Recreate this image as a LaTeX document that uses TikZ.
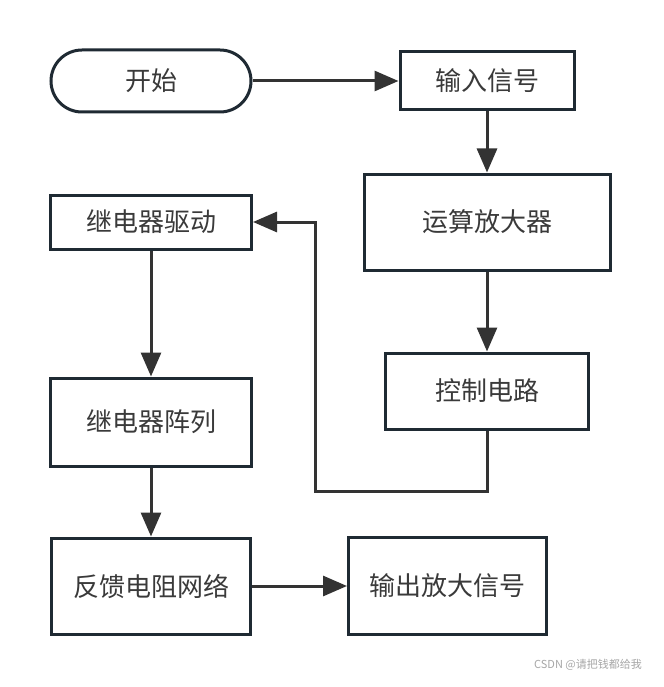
\documentclass[tikz,border=0pt]{standalone}
\usepackage{fontspec}
\newfontfamily\cjk{Noto Sans CJK SC}
\usepackage{tikz}
\usetikzlibrary{arrows.meta, positioning}
\usepackage{xcolor}
\definecolor{boxline}{HTML}{1F2A33}
\definecolor{linkline}{HTML}{333333}
\definecolor{labeltext}{HTML}{3A3A3A}
\tikzstyle{stepbox} = [rectangle, draw=boxline, line width=3pt, fill=white, text centered, text=labeltext, inner sep=0pt, font=\cjk\fontsize{26}{30}\selectfont]
\tikzstyle{startbox} = [stepbox, rounded corners=31pt]
\tikzstyle{flowarrow} = [line width=3pt, draw=linkline, -{Triangle[length=24pt, width=20pt]}]

\begin{document}
\begin{tikzpicture}[x=1pt, y=-1pt, node distance=60pt]
    \useasboundingbox (0,0) rectangle (663,687);
    \node (start) [startbox, minimum width=200pt, minimum height=62pt] at (151,81) {开始};
    \node (input) [stepbox, minimum width=174pt, minimum height=58pt, right=146pt of start] {输入信号};
    \node (opamp) [stepbox, minimum width=246pt, minimum height=96pt, below=61pt of input] {运算放大器};
    \node (ctrl) [stepbox, minimum width=203pt, minimum height=76pt, below=80pt of opamp] {控制电路};
    \node (drive) [stepbox, minimum width=201pt, minimum height=54pt] at (151,222) {继电器驱动};
    \node (relays) [stepbox, minimum width=201pt, minimum height=88pt, below=126pt of drive] {继电器阵列};
    \node (fbnet) [stepbox, minimum width=199pt, minimum height=96pt, below=69pt of relays] {反馈电阻网络};
    \node (output) [stepbox, minimum width=198pt, minimum height=97pt, right=95pt of fbnet] {输出放大信号};
    \coordinate (fbturn) at (315,491);

    \foreach \i/\j in {start/input, fbnet/output} {
        \draw [flowarrow] (\i.east) -- (\j.west);
    }
    \foreach \i/\j in {input/opamp, opamp/ctrl, drive/relays, relays/fbnet} {
        \draw [flowarrow] (\i.south) -- (\j.north);
    }
    \draw [flowarrow] (ctrl.south) |- (fbturn) |- (drive.east);

    \node (mark) [text=black!35, font=\cjk\fontsize{11}{13}\selectfont] at (588,665) {CSDN @请把钱都给我};
\end{tikzpicture}
\end{document}
